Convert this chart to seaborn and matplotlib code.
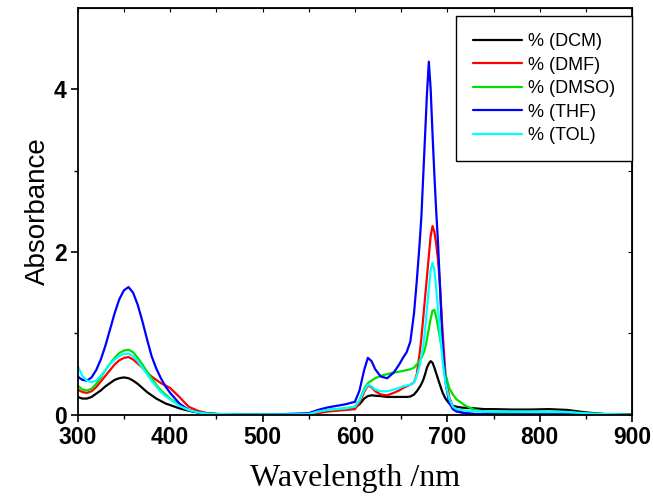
import matplotlib
matplotlib.use("Agg")
import matplotlib.pyplot as plt
import numpy as np
import pandas as pd
import seaborn as sns

# wavelength grid (nm)
wavelength = [300, 305, 310, 315, 320, 325, 330, 335, 340, 345, 350, 355, 360, 365, 370,
              375, 380, 385, 390, 395, 400,
              410, 420, 430, 440, 450, 475, 500, 525, 550, 560, 570, 580, 590, 600,
              605, 610, 614, 618, 622, 628, 635, 642, 648, 652, 656, 660, 664, 667,
              670, 672, 674, 676, 678, 680, 682, 684, 686, 688, 690, 692, 695, 698,
              702, 706, 710, 715, 720, 730, 740, 750, 770, 790, 810, 830, 850, 870, 900]

dcm = [0.22, 0.20, 0.20, 0.22, 0.26, 0.30, 0.35, 0.39, 0.43, 0.45, 0.46, 0.45, 0.42, 0.38, 0.33,
       0.28, 0.24, 0.20, 0.17, 0.14, 0.12,
       0.08, 0.05, 0.03, 0.02, 0.01, 0.005, 0.005, 0.005, 0.01, 0.03, 0.05, 0.06, 0.07, 0.09,
       0.13, 0.20, 0.23, 0.24, 0.235, 0.23, 0.22, 0.22, 0.22, 0.22, 0.22, 0.225, 0.25, 0.29,
       0.34, 0.38, 0.43, 0.50, 0.58, 0.63, 0.66, 0.64, 0.58, 0.51, 0.44, 0.37, 0.27, 0.20,
       0.14, 0.11, 0.10, 0.09, 0.085, 0.08, 0.07, 0.07, 0.065, 0.065, 0.07, 0.06, 0.03, 0.01, 0.005]

dmf = [0.31, 0.28, 0.27, 0.29, 0.34, 0.41, 0.48, 0.55, 0.62, 0.67, 0.70, 0.71, 0.68, 0.63, 0.58,
       0.52, 0.47, 0.43, 0.39, 0.36, 0.33,
       0.22, 0.10, 0.05, 0.02, 0.01, 0.005, 0.005, 0.005, 0.01, 0.02, 0.04, 0.05, 0.06, 0.07,
       0.15, 0.28, 0.36, 0.34, 0.29, 0.25, 0.24, 0.27, 0.30, 0.33, 0.35, 0.37, 0.40, 0.50,
       0.75, 0.95, 1.20, 1.45, 1.70, 1.95, 2.20, 2.32, 2.25, 2.10, 1.90, 1.60, 1.00, 0.50,
       0.22, 0.10, 0.05, 0.03, 0.02, 0.01, 0.01, 0.01, 0.01, 0.01, 0.01, 0.01, 0.005, 0.005, 0.0]

dmso = [0.36, 0.31, 0.30, 0.32, 0.38, 0.46, 0.55, 0.63, 0.70, 0.76, 0.79, 0.80, 0.77, 0.70, 0.62,
        0.53, 0.45, 0.37, 0.30, 0.25, 0.20,
        0.12, 0.06, 0.03, 0.015, 0.01, 0.005, 0.005, 0.005, 0.01, 0.04, 0.06, 0.07, 0.08, 0.10,
        0.18, 0.32, 0.39, 0.42, 0.45, 0.48, 0.50, 0.52, 0.53, 0.54, 0.55, 0.56, 0.58, 0.62,
        0.66, 0.70, 0.75, 0.82, 0.93, 1.06, 1.18, 1.28, 1.29, 1.20, 1.08, 0.95, 0.75, 0.50,
        0.33, 0.25, 0.19, 0.15, 0.11, 0.06, 0.04, 0.03, 0.02, 0.015, 0.015, 0.015, 0.01, 0.005, 0.0]

thf = [0.47, 0.43, 0.42, 0.46, 0.55, 0.68, 0.85, 1.05, 1.25, 1.42, 1.53, 1.57, 1.50, 1.35, 1.15,
       0.93, 0.72, 0.57, 0.45, 0.35, 0.27,
       0.14, 0.06, 0.03, 0.015, 0.01, 0.005, 0.005, 0.01, 0.02, 0.06, 0.09, 0.11, 0.13, 0.16,
       0.30, 0.55, 0.70, 0.66, 0.56, 0.47, 0.45, 0.52, 0.62, 0.70, 0.77, 0.90, 1.25, 1.65,
       2.10, 2.45, 2.95, 3.45, 3.95, 4.34, 4.00, 3.45, 2.95, 2.50, 2.10, 1.60, 0.85, 0.40,
       0.15, 0.07, 0.04, 0.03, 0.02, 0.01, 0.01, 0.005, 0.005, 0.005, 0.005, 0.005, 0.0, 0.0, 0.0]

tol = [0.60, 0.48, 0.42, 0.40, 0.42, 0.48, 0.55, 0.62, 0.68, 0.72, 0.75, 0.75, 0.72, 0.66, 0.58,
       0.50, 0.42, 0.35, 0.28, 0.23, 0.19,
       0.11, 0.06, 0.03, 0.015, 0.01, 0.005, 0.005, 0.005, 0.01, 0.04, 0.06, 0.07, 0.08, 0.10,
       0.18, 0.30, 0.37, 0.35, 0.31, 0.29, 0.29, 0.31, 0.33, 0.35, 0.36, 0.37, 0.40, 0.48,
       0.60, 0.72, 0.85, 1.05, 1.30, 1.55, 1.78, 1.87, 1.78, 1.55, 1.30, 1.05, 0.65, 0.39,
       0.20, 0.10, 0.07, 0.06, 0.05, 0.045, 0.04, 0.04, 0.04, 0.04, 0.04, 0.035, 0.02, 0.01, 0.0]

labels = ["% (DCM)", "% (DMF)", "% (DMSO)", "% (THF)", "% (TOL)"]
colors = ["#000000", "#ff0000", "#00e000", "#0000ff", "#00ffff"]

frames = []
for lab, vals in zip(labels, [dcm, dmf, dmso, thf, tol]):
    frames.append(pd.DataFrame({"wl": wavelength, "abs": vals, "solvent": lab}))
df = pd.concat(frames, ignore_index=True)

sns.set_style("ticks")
plt.rcParams['font.family'] = ['Liberation Sans', 'DejaVu Sans']
plt.rcParams['text.color'] = 'black'
plt.rcParams['axes.labelcolor'] = 'black'
plt.rcParams['xtick.color'] = 'black'
plt.rcParams['ytick.color'] = 'black'

fig = plt.figure(figsize=(6.53, 4.98), dpi=100)
ax = fig.add_axes([0.119, 0.167, 0.849, 0.817])

sns.lineplot(data=df, x="wl", y="abs", hue="solvent", palette=colors,
             linewidth=1.6, ax=ax, sort=False)

ax.set_xlim(300, 900)
ax.set_ylim(0, 5)
ax.set_xticks([300, 400, 500, 600, 700, 800, 900])
ax.set_xticks(np.arange(350, 900, 100), minor=True)
ax.set_yticks([0, 2, 4])
ax.set_yticks([1, 3], minor=True)
ax.tick_params(which="major", direction="out", length=5, width=1.2, labelsize=16.5, pad=3)
ax.tick_params(which="minor", direction="out", length=3, width=1.0)
for t in ax.get_xticklabels() + ax.get_yticklabels():
    t.set_fontweight("bold")
for s in ax.spines.values():
    s.set_linewidth(1.3)
    s.set_color("black")

# mirrored ticks on top and right
top = ax.secondary_xaxis("top")
top.set_xticks(np.arange(300, 901, 50))
top.tick_params(direction="in", length=3, labeltop=False)
right = ax.secondary_yaxis("right")
right.set_yticks([0, 1, 2, 3, 4, 5])
right.tick_params(direction="in", length=3, labelright=False)

ax.set_ylabel("Absorbance", fontsize=20, labelpad=2)
ax.set_xlabel("Wavelength /nm", fontsize=23, family=["Liberation Serif", "DejaVu Serif"], labelpad=11)

leg = ax.legend(loc="upper right", bbox_to_anchor=(1.0, 0.98), borderaxespad=0,
                fontsize=13, frameon=True, fancybox=False, handlelength=2.7,
                labelspacing=0.36, borderpad=0.95, handletextpad=0.35)
leg.get_frame().set_edgecolor("black")
leg.get_frame().set_linewidth(1.0)
leg.get_frame().set_alpha(1)

fig.savefig("out.png", dpi=100)
